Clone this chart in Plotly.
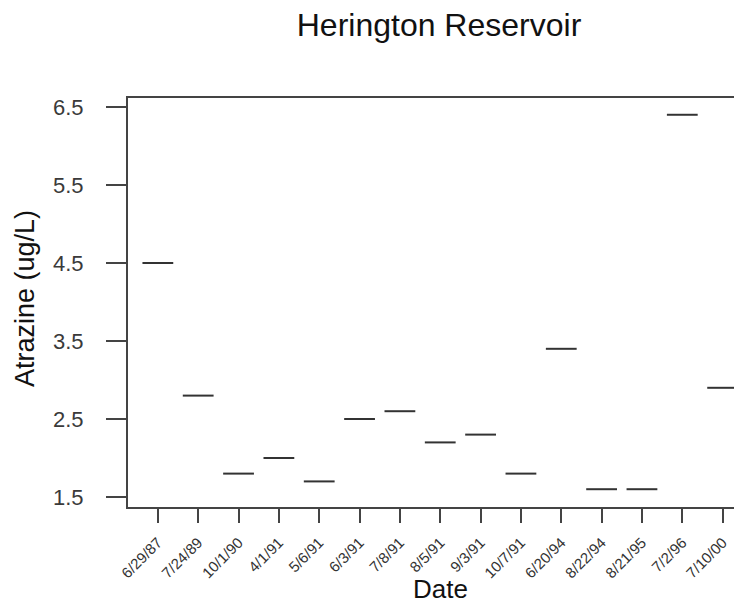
import plotly.graph_objects as go

dates = ["6/29/87", "7/24/89", "10/1/90", "4/1/91", "5/6/91", "6/3/91", "7/8/91",
         "8/5/91", "9/3/91", "10/7/91", "6/20/94", "8/22/94", "8/21/95", "7/2/96", "7/10/00"]
atrazine = [4.5, 2.8, 1.8, 2.0, 1.7, 2.5, 2.6, 2.2, 2.3, 1.8, 3.4, 1.6, 1.6, 6.4, 2.9]
y_ticks = [1.5, 2.5, 3.5, 4.5, 5.5, 6.5]

# page body has an 8px margin; figure coordinates are offset accordingly
OFF = 8
W, H = 742 - OFF, 603 - OFF
L, R, T = 128 - OFF, 0, 98 - OFF
B = H - (507 - OFF)

fig = go.Figure()
fig.add_trace(go.Scatter(
    x=dates, y=atrazine, mode="markers",
    marker=dict(symbol="line-ew", size=22, color="#333333",
                line=dict(width=2, color="#333333")),
    hoverinfo="x+y", showlegend=False,
))

font = "Liberation Sans, Arial, sans-serif"
PW, PH = W - L - R, H - T - B
fig.update_layout(
    width=W, height=H,
    margin=dict(l=L, r=R, t=T, b=B, pad=0),
    plot_bgcolor="white", paper_bgcolor="white",
    font=dict(family=font, color="#222222"),
    title=dict(text="Herington Reservoir", font=dict(size=32, color="#111111", family=font),
               x=(439 - OFF) / W, xref="container", xanchor="center",
               y=1 - (25 - OFF) / H, yref="container", yanchor="middle"),
    xaxis=dict(
        type="category", categoryorder="array", categoryarray=dates,
        range=[-0.74, 14.48],
        showline=True, linecolor="#444444", linewidth=2, mirror=True,
        ticks="outside", ticklen=14, tickwidth=2, tickcolor="#444444",
        tickangle=-45, tickfont=dict(size=15, color="#333333"),
        ticklabelstandoff=5,
        showgrid=False, zeroline=False,
    ),
    yaxis=dict(
        range=[1.372, 6.615],
        tickvals=y_ticks, ticktext=[f"{v:.1f}" for v in y_ticks],
        showline=True, linecolor="#444444", linewidth=2, mirror=False,
        ticks="outside", ticklen=20, tickwidth=2, tickcolor="#444444",
        tickfont=dict(size=22, color="#3a3a3a"),
        ticklabelstandoff=18,
        showgrid=False, zeroline=False,
    ),
    annotations=[
        dict(text="Date", xref="paper", yref="paper",
             x=(440 - 128) / PW, y=-(589 - 507) / PH,
             xanchor="center", yanchor="middle", showarrow=False,
             font=dict(size=26, color="#111111", family=font)),
        dict(text="Atrazine (ug/L)", xref="paper", yref="paper",
             x=-(128 - 25) / PW, y=1 - (299 - 98) / PH,
             xanchor="center", yanchor="middle", textangle=-90, showarrow=False,
             font=dict(size=27, color="#111111", family=font)),
    ],
)

fig.write_html("out.html")
